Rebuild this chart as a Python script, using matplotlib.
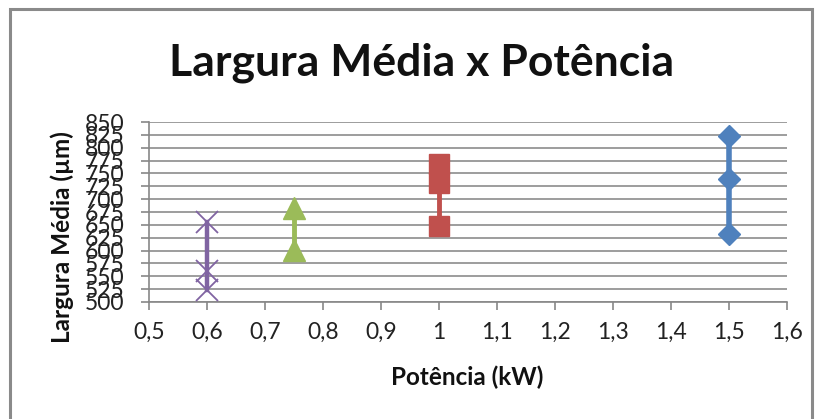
import matplotlib
matplotlib.use("Agg")
import matplotlib.pyplot as plt
from matplotlib.patches import Rectangle

plt.rcParams['font.family'] = ['Lato', 'DejaVu Sans']

# Dados: largura média medida para cada potência
pot_06 = [0.6, 0.6, 0.6]
larg_06 = [656, 560, 523]
pot_075 = [0.75, 0.75]
larg_075 = [683, 601]
pot_10 = [1.0, 1.0, 1.0]
larg_10 = [769, 732, 648]
pot_15 = [1.5, 1.5, 1.5]
larg_15 = [823, 739, 632]

y_ticks = list(range(500, 851, 25))
x_ticks = [0.5, 0.6, 0.7, 0.8, 0.9, 1.0, 1.1, 1.2, 1.3, 1.4, 1.5, 1.6]
x_labels = ['0,5', '0,6', '0,7', '0,8', '0,9', '1', '1,1', '1,2', '1,3', '1,4', '1,5', '1,6']

fig = plt.figure(figsize=(8.22, 4.19), dpi=100)
ax = fig.add_axes([149 / 822, 1 - 302 / 419, (787 - 149) / 822, (302 - 122) / 419])

ax.plot(pot_06, larg_06, color='#8064A2', lw=3.2, marker='x', ms=16, mew=1.3, zorder=3)
ax.plot(pot_075, larg_075, color='#9BBB59', lw=3.5, marker='^', ms=16, zorder=3)
ax.plot(pot_10, larg_10, color='#C0504D', lw=3.5, marker='s', ms=15, zorder=3)
ax.plot(pot_15, larg_15, color='#4F81BD', lw=4, marker='D', ms=11.5, zorder=3)

ax.set_xlim(0.5, 1.6)
ax.set_ylim(500, 850)
ax.set_xticks(x_ticks)
ax.set_xticklabels(x_labels)
ax.set_yticks(y_ticks)
ax.tick_params(axis='both', labelsize=16.5, color='#878787', length=5.5, width=1.2,
               labelcolor='#222222')
ax.tick_params(axis='y', pad=12)
ax.tick_params(axis='x', pad=9)
ax.grid(axis='y', color='#8c8c8c', lw=1.2)
ax.set_axisbelow(True)
for s in ['top', 'right']:
    ax.spines[s].set_visible(False)
for s in ['left', 'bottom']:
    ax.spines[s].set_color('#878787')
    ax.spines[s].set_linewidth(1.2)

fig.text(422 / 822, 1 - 63 / 419, 'Largura Média x Potência', ha='center', va='center',
         fontsize=32, fontweight='bold', color='#111111')
fig.text(467 / 822, 1 - 377 / 419, 'Potência (kW)', ha='center', va='center',
         fontsize=17.5, fontweight='bold', color='#111111')
fig.text(62 / 822, 1 - 237 / 419, 'Largura Média (µm)', ha='center', va='center',
         rotation=90, fontsize=17.5, fontweight='bold', color='#111111')

# moldura cinza da área do gráfico
fig.patches.append(Rectangle((10 / 822, -0.1), (812 - 10) / 822, 1.1 - 9.5 / 419,
                             transform=fig.transFigure, fill=False,
                             edgecolor='#8a8a8a', lw=2.2))

fig.savefig('out.png', dpi=100)
